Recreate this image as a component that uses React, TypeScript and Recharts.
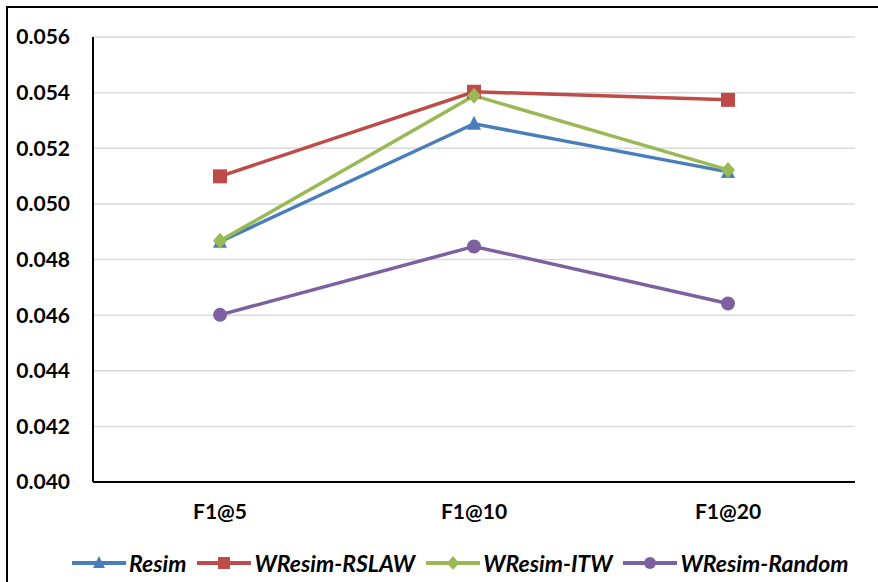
import React from "react";
import { CartesianGrid, Line, LineChart, XAxis, YAxis } from "recharts";

const categories = ["F1@5", "F1@10", "F1@20"];
const resim = [0.04864, 0.05288, 0.05115];
const wresimRslaw = [0.05099, 0.05403, 0.05374];
const wresimItw = [0.04867, 0.05389, 0.05122];
const wresimRandom = [0.04601, 0.04847, 0.04642];
const yTicks = [0.04, 0.042, 0.044, 0.046, 0.048, 0.05, 0.052, 0.054, 0.056];

const data = categories.map((c, i) => ({
  name: c,
  resim: resim[i],
  rslaw: wresimRslaw[i],
  itw: wresimItw[i],
  random: wresimRandom[i],
}));

const FONT = "Lato, 'Open Sans', sans-serif";

type Shape = "triangle" | "square" | "diamond" | "circle";

const series: { key: string; name: string; color: string; shape: Shape }[] = [
  { key: "resim", name: "Resim", color: "#4a7ebb", shape: "triangle" },
  { key: "rslaw", name: "WResim-RSLAW", color: "#be4b48", shape: "square" },
  { key: "itw", name: "WResim-ITW", color: "#98b954", shape: "diamond" },
  { key: "random", name: "WResim-Random", color: "#7d60a0", shape: "circle" },
];

function Marker({ cx, cy, color, shape, s = 7 }: { cx: number; cy: number; color: string; shape: Shape; s?: number }) {
  if (shape === "square") return <rect x={cx - s} y={cy - s} width={s * 2} height={s * 2} fill={color} />;
  if (shape === "circle") return <circle cx={cx} cy={cy} r={s} fill={color} />;
  if (shape === "diamond")
    return <polygon points={`${cx},${cy - s - 1} ${cx + s},${cy} ${cx},${cy + s + 1} ${cx - s},${cy}`} fill={color} />;
  return <polygon points={`${cx},${cy - s - 1} ${cx + s},${cy + s - 1} ${cx - s},${cy + s - 1}`} fill={color} />;
}

function ChartLegend() {
  return (
    <div
      style={{
        position: "absolute",
        left: 72,
        top: 549,
        display: "flex",
        alignItems: "center",
        fontFamily: FONT,
        fontWeight: 700,
        fontStyle: "italic",
        fontSize: 23,
        lineHeight: "28px",
      }}
    >
      {series.map((s) => (
        <div key={s.key} style={{ display: "flex", alignItems: "center", marginRight: 11 }}>
          <svg width={54} height={20}>
            <line x1={0} y1={10} x2={54} y2={10} stroke={s.color} strokeWidth={4} />
            <Marker cx={27} cy={10} color={s.color} shape={s.shape} s={6} />
          </svg>
          <span style={{ marginLeft: 3, color: "#000" }}>{s.name}</span>
        </div>
      ))}
    </div>
  );
}

export default function App() {
  return (
    <div style={{ position: "absolute", left: 0, top: 0, width: 878, height: 582, overflow: "hidden", background: "#fff" }}>
      <div style={{ position: "absolute", left: 6, top: 6, width: 900, height: 600, border: "2px solid #000" }} />
      <div style={{ position: "absolute", left: 0, top: 0 }}>
        <LineChart width={878} height={582} data={data} margin={{ top: 37, right: 23, bottom: 70, left: 8 }}>
          <CartesianGrid vertical={false} stroke="#d9d9d9" strokeWidth={1.5} />
          <XAxis
            dataKey="name"
            height={30}
            padding={{ left: 127, right: 127 }}
            axisLine={{ stroke: "#000", strokeWidth: 2 }}
            tickLine={false}
            tickSize={0}
            tickMargin={22}
            tick={{ fontFamily: FONT, fontWeight: 700, fontSize: 21, fill: "#000" }}
          />
          <YAxis
            width={85}
            domain={[0.04, 0.056]}
            ticks={yTicks}
            interval={0}
            tickFormatter={(v: number) => v.toFixed(3)}
            axisLine={{ stroke: "#000", strokeWidth: 2 }}
            tickLine={false}
            tickSize={0}
            tickMargin={23}
            tick={{ fontFamily: FONT, fontWeight: 700, fontSize: 21, fill: "#000" }}
          />
          {series.map((s) => (
            <Line
              key={s.key}
              dataKey={s.key}
              name={s.name}
              stroke={s.color}
              strokeWidth={3.5}
              isAnimationActive={false}
              dot={(p: any) => <Marker key={`${s.key}-${p.index}`} cx={p.cx} cy={p.cy} color={s.color} shape={s.shape} />}
              activeDot={false}
            />
          ))}
        </LineChart>
      </div>
      <ChartLegend />
    </div>
  );
}
